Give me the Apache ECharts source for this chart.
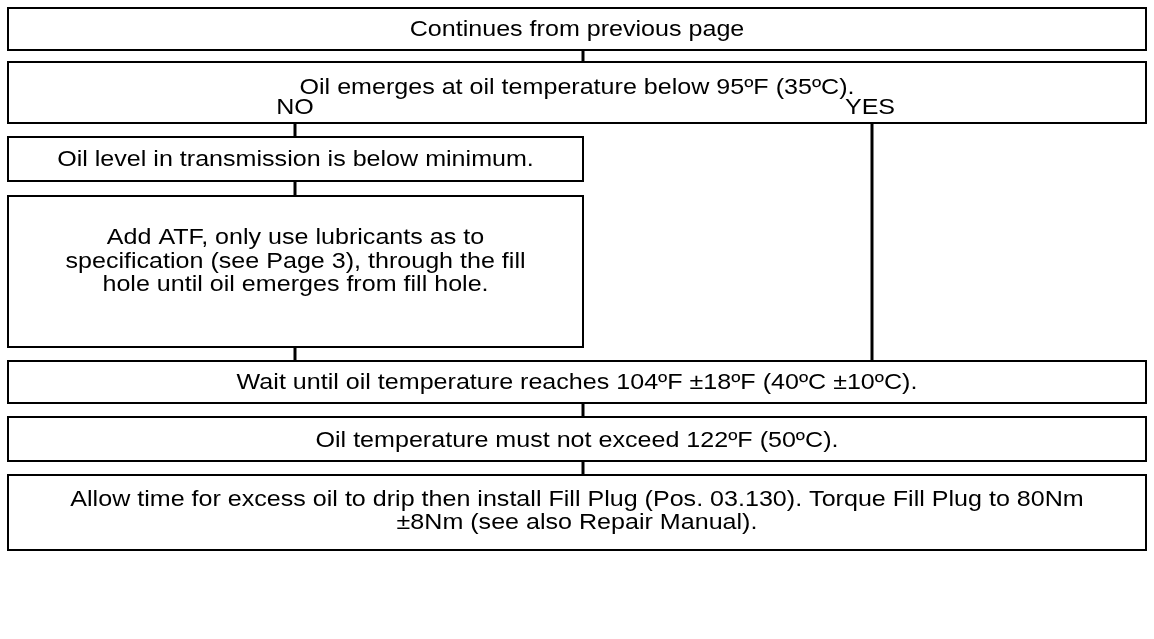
<!DOCTYPE html>
<html><head><meta charset="utf-8">
<script src="https://cdn.jsdelivr.net/npm/echarts@6/dist/echarts.min.js"></script>
<style>html,body{margin:0;padding:0;background:#fff}#c{width:1154px;height:639px}</style>
</head><body><div id="c"></div>
<script>
// Flowchart content
const stepTexts = [
  'Continues from previous page',
  'Oil emerges at oil temperature below 95ºF (35ºC).',
  'Oil level in transmission is below minimum.',
  'Add ATF, only use lubricants as to\nspecification (see Page 3), through the fill\nhole until oil emerges from fill hole.',
  'Wait until oil temperature reaches 104ºF \u00b118ºF (40ºC \u00b110ºC).',
  'Oil temperature must not exceed 122ºF (50ºC).',
  'Allow time for excess oil to drip then install Fill Plug (Pos. 03.130). Torque Fill Plug to 80Nm\n\u00b18Nm (see also Repair Manual).'
];
// Box extents (in diagram units)
const boxLeft   = [8, 8, 8, 8, 8, 8, 8];
const boxRight  = [1146, 1146, 583, 583, 1146, 1146, 1146];
const boxTop    = [8, 62, 137, 196, 361, 417, 475];
const boxBottom = [50, 123, 181, 347, 403, 461, 550];
const textCenterY = [30, 87.5, 160, 261.5, 383, 441, 511.5];
// Branch labels
const branchLabels = ['NO', 'YES'];
const branchX = [295, 870];
const branchY = [107.5, 107.5];
// Connectors
const connX    = [583, 295, 872, 295, 295, 583, 583];
const connFrom = [50, 123, 123, 181, 347, 403, 461];
const connTo   = [62, 137, 361, 196, 361, 417, 475];

const FONT = '22px "Liberation Sans", Arial, sans-serif';
const TEXT_SCALE_X = 1.14;
const LINE_H = 23.5;

const boxData = stepTexts.map((t, i) => [boxLeft[i], boxTop[i], boxRight[i], boxBottom[i], textCenterY[i]]);
const connData = connX.map((x, i) => [x, connFrom[i], connTo[i]]);
const labelData = branchLabels.map((t, i) => [branchX[i], branchY[i]]);

const chart = echarts.init(document.getElementById('c'), null, {renderer: 'canvas'});
chart.setOption({
  animation: false,
  backgroundColor: '#ffffff',
  grid: {left: 0, right: 0, top: 0, bottom: 0},
  xAxis: {type: 'value', min: 0, max: 1154, show: false},
  yAxis: {type: 'value', min: 0, max: 639, inverse: true, show: false},
  series: [
    {
      type: 'custom', coordinateSystem: 'cartesian2d', clip: false, z: 2,
      data: connData,
      renderItem: function (params, api) {
        const a = api.coord([api.value(0), api.value(1)]);
        const b = api.coord([api.value(0), api.value(2)]);
        return {type: 'line', shape: {x1: a[0], y1: a[1], x2: b[0], y2: b[1]},
          style: {stroke: '#000', lineWidth: 3}};
      }
    },
    {
      type: 'custom', coordinateSystem: 'cartesian2d', clip: false, z: 3,
      data: boxData,
      renderItem: function (params, api) {
        const p0 = api.coord([api.value(0), api.value(1)]);
        const p1 = api.coord([api.value(2), api.value(3)]);
        const ty = api.coord([0, api.value(4)])[1];
        return {type: 'group', children: [
          {type: 'rect', shape: {x: p0[0], y: p0[1], width: p1[0] - p0[0], height: p1[1] - p0[1]},
            style: {fill: '#fff', stroke: '#000', lineWidth: 2}},
          {type: 'text', x: (p0[0] + p1[0]) / 2, y: ty, scaleX: TEXT_SCALE_X,
            style: {text: stepTexts[params.dataIndex], font: FONT, fill: '#000',
              align: 'center', verticalAlign: 'middle', lineHeight: LINE_H}}
        ]};
      }
    },
    {
      type: 'custom', coordinateSystem: 'cartesian2d', clip: false, z: 4,
      data: labelData,
      renderItem: function (params, api) {
        const p = api.coord([api.value(0), api.value(1)]);
        return {type: 'text', x: p[0], y: p[1], scaleX: TEXT_SCALE_X,
          style: {text: branchLabels[params.dataIndex], font: FONT, fill: '#000',
            align: 'center', verticalAlign: 'middle'}};
      }
    }
  ]
});
</script>
</body></html>
